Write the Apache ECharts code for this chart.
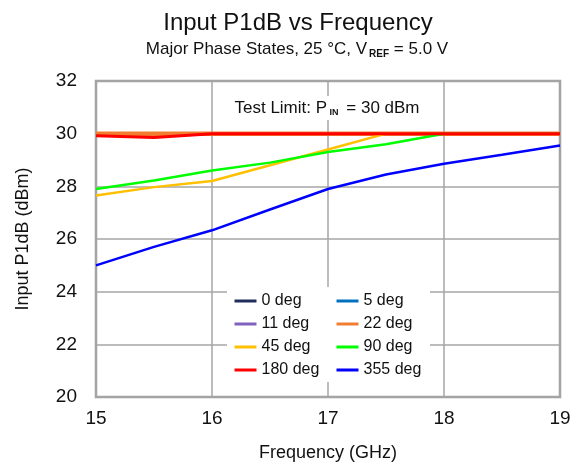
<!DOCTYPE html>
<html>
<head>
<meta charset="utf-8">
<script src="https://cdn.jsdelivr.net/npm/echarts@6/dist/echarts.min.js"></script>
<style>html,body{margin:0;padding:0;background:#fff}#c{width:581px;height:470px}</style>
</head>
<body>
<div id="c"></div>
<script>
const freqGHz = [15, 15.5, 16, 16.5, 17, 17.5, 18, 18.5, 19];
const deg0   = [30, 30, 30, 30, 30, 30, 30, 30, 30];
const deg5   = [30, 30, 30, 30, 30, 30, 30, 30, 30];
const deg11  = [30, 30, 30, 30, 30, 30, 30, 30, 30];
const deg22  = [30, 30, 30, 30, 30, 30, 30, 30, 30];
const deg45  = [27.65, 27.97, 28.2, 28.8, 29.4, 30, 30, 30, 30];
const deg90  = [27.9, 28.22, 28.6, 28.9, 29.3, 29.6, 30, 30, 30];
const deg180 = [29.92, 29.85, 30, 30, 30, 30, 30, 30, 30];
const deg355 = [25.0, 25.7, 26.33, 27.12, 27.9, 28.45, 28.86, 29.2, 29.55];
const xTicks = [15, 16, 17, 18, 19];
const yTicks = [20, 22, 24, 26, 28, 30, 32];
const seriesNames = ['0 deg', '5 deg', '11 deg', '22 deg', '45 deg', '90 deg', '180 deg', '355 deg'];

const font = 'Liberation Sans, Arial, sans-serif';
const pairs = arr => freqGHz.map((f, i) => [f, arr[i]]);
const mk = (name, arr, color, width) => ({
  name, type: 'line', data: pairs(arr), symbol: 'none', smooth: false,
  lineStyle: { color, width }, itemStyle: { color }, z: 3
});
const legendBase = {
  orient: 'vertical', top: 293, padding: 0, itemGap: 7, itemWidth: 22, itemHeight: 16,
  lineStyle: { width: 3 }, itemStyle: { opacity: 0 },
  textStyle: { fontSize: 16, color: '#111', fontFamily: font }, selectedMode: false
};

const chart = echarts.init(document.getElementById('c'));
chart.setOption({
  animation: false,
  backgroundColor: '#fff',
  textStyle: { fontFamily: font },
  title: [
    { text: 'Input P1dB vs Frequency', left: 293, top: 6, textAlign: 'center',
      textStyle: { fontSize: 24, fontWeight: 'normal', color: '#111', fontFamily: font } },
    { text: '{a|Major Phase States, 25 °C, V}{s|REF}{a| = 5.0 V}', left: 292, top: 34, textAlign: 'center',
      textStyle: { fontSize: 17, fontWeight: 'normal', color: '#111', fontFamily: font,
        rich: { a: { fontSize: 17, color: '#111', fontFamily: font },
                s: { fontSize: 10, fontWeight: 'bold', color: '#111', fontFamily: font, padding: [10, 0, 0, 2] } } } }
  ],
  grid: { left: 96, right: 21, top: 81, bottom: 73, show: true, borderColor: '#a0a0a0', borderWidth: 2.5, backgroundColor: 'transparent' },
  xAxis: {
    type: 'value', min: xTicks[0], max: xTicks[xTicks.length - 1], interval: 1,
    name: 'Frequency (GHz)', nameLocation: 'middle', nameGap: 47,
    nameTextStyle: { fontSize: 18, color: '#111', fontFamily: font },
    axisLine: { show: false }, axisTick: { show: false },
    axisLabel: { fontSize: 19, color: '#111', margin: 12, fontFamily: font },
    splitLine: { show: true, lineStyle: { color: '#a6a6a6', width: 1.5 } }
  },
  yAxis: {
    type: 'value', min: yTicks[0], max: yTicks[yTicks.length - 1], interval: 2,
    name: 'Input P1dB (dBm)', nameLocation: 'middle', nameGap: 64,
    nameTextStyle: { fontSize: 18, color: '#111', fontFamily: font },
    axisLine: { show: false }, axisTick: { show: false },
    axisLabel: { fontSize: 19, color: '#111', margin: 19, fontFamily: font },
    splitLine: { show: true, lineStyle: { color: '#a6a6a6', width: 1.5 } }
  },
  legend: [
    Object.assign({}, legendBase, { left: 233, data: [seriesNames[0], seriesNames[2], seriesNames[4], seriesNames[6]] }),
    Object.assign({}, legendBase, { left: 335, data: [seriesNames[1], seriesNames[3], seriesNames[5], seriesNames[7]] })
  ],
  graphic: [
    { type: 'rect', z: 1, shape: { x: 227, y: 287, width: 203, height: 95 }, style: { fill: '#fff' } },
    { type: 'rect', z: 1, shape: { x: 224, y: 96, width: 204, height: 24 }, style: { fill: '#fff' } },
    { type: 'text', z: 5, x: 327, y: 108,
      style: { text: '{a|Test Limit: P}{s| IN}{a| = 30 dBm}', align: 'center', verticalAlign: 'middle',
        rich: { a: { fontSize: 17, fill: '#111', fontFamily: font },
                s: { fontSize: 9, fontWeight: 'bold', fill: '#111', fontFamily: font, padding: [10, 3, 0, 0] } } } }
  ],
  series: [
    mk(seriesNames[0], deg0, '#1f2d5a', 2.5),
    mk(seriesNames[1], deg5, '#0070c0', 2.5),
    mk(seriesNames[2], deg11, '#8060c0', 2.5),
    mk(seriesNames[3], deg22, '#f07d30', 4.5),
    mk(seriesNames[4], deg45, '#ffc000', 2.5),
    mk(seriesNames[5], deg90, '#00ff00', 2.5),
    mk(seriesNames[6], deg180, '#ff0000', 3),
    mk(seriesNames[7], deg355, '#0000ff', 2.5)
  ]
});
</script>
</body>
</html>
